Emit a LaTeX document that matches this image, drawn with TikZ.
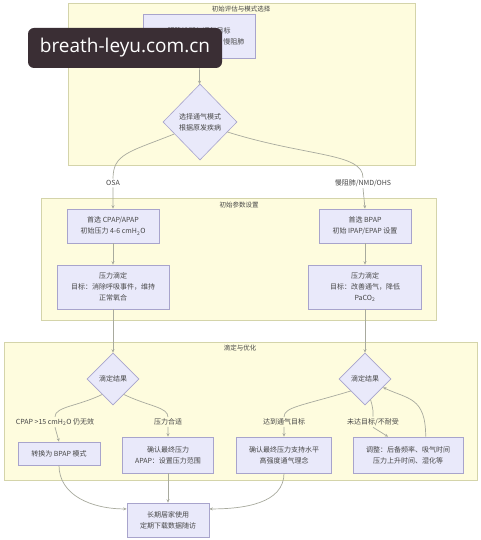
\documentclass[tikz,border=0pt]{standalone}
\usepackage{fontspec}
\setmainfont{Noto Sans CJK SC}
\newfontfamily\wmfont{Open Sans}
\usetikzlibrary{arrows.meta,shapes.geometric,calc}

\definecolor{grpfill}{RGB}{254,252,222}
\definecolor{grpline}{RGB}{212,212,170}
\definecolor{boxfill}{RGB}{233,233,250}
\definecolor{boxline}{RGB}{168,164,204}
\definecolor{edgec}{RGB}{168,170,158}
\definecolor{txt}{RGB}{70,70,70}
\definecolor{wmc}{RGB}{58,46,52}

\begin{document}
\begin{tikzpicture}[
  x=1pt, y=-1pt,
  grp/.style={draw=grpline, fill=grpfill, line width=0.6pt},
  grptitle/.style={font=\fontsize{6.5}{8}\selectfont, text=txt, inner sep=1pt},
  box/.style={draw=boxline, fill=boxfill, line width=0.6pt, align=center,
              font=\fontsize{7}{11}\selectfont, text=txt, inner sep=2pt},
  dec/.style={diamond, draw=boxline, fill=boxfill, line width=0.6pt, align=center,
              font=\fontsize{7}{11}\selectfont, text=txt, inner sep=0pt},
  lbl/.style={font=\fontsize{7}{9}\selectfont, text=txt, inner sep=1.5pt},
  flow/.style={draw=edgec, line width=0.7pt, -{Stealth[length=3.5pt,width=3pt]}},
]
  \useasboundingbox[fill=white] (0,0) rectangle (481,540);

  % groups
  \draw[grp] (68,3) rectangle (415,165);
  \node[grptitle] (g1) at (241,9) {初始评估与模式选择};
  \draw[grp] (41,198) rectangle (436,320);
  \node[grptitle] (g2) at (239,205) {初始参数设置};
  \draw[grp] (4,342) rectangle (477,480);
  \node[grptitle] (g3) at (240,348) {滴定与优化};

  % initial assessment
  \node[box, minimum width=112pt, minimum height=44pt] (goal) at (199,36)
      {明确诊断与通气目标\\如OSA、肥胖低通气、慢阻肺};
  \node[dec, minimum width=74pt, minimum height=76pt] (sel) at (200,122)
      {选择通气模式\\根据原发疾病};

  % initial settings
  \node[box, minimum width=92pt, minimum height=34pt] (cpap) at (113,226)
      {首选 CPAP/APAP\\初始压力 4-6 cmH\textsubscript{2}O};
  \node[box, minimum width=112pt, minimum height=44pt] (titA) at (113,287)
      {压力滴定\\目标：消除呼吸事件，维持\\正常氧合};
  \node[box, minimum width=92pt, minimum height=34pt] (bpap) at (365,226)
      {首选 BPAP\\初始 IPAP/EPAP 设置};
  \node[box, minimum width=113pt, minimum height=44pt] (titB) at (365,287)
      {压力滴定\\目标：改善通气，降低\\PaCO\textsubscript{2}};

  % titration
  \node[dec, minimum width=52pt, minimum height=52pt] (resA) at (113,379) {滴定结果};
  \node[dec, minimum width=52pt, minimum height=52pt] (resB) at (365,379) {滴定结果};
  \node[box, minimum width=82pt, minimum height=23pt] (swap) at (59,453.5) {转换为 BPAP 模式};
  \node[box, minimum width=91pt, minimum height=36pt] (fixA) at (168,455)
      {确认最终压力\\APAP：设置压力范围};
  \node[box, minimum width=95pt, minimum height=36pt] (fixB) at (284,455)
      {确认最终压力支持水平\\高强度通气理念};
  \node[box, minimum width=110pt, minimum height=36pt] (tune) at (408,455)
      {调整：后备频率、吸气时间\\压力上升时间、湿化等};
  \node[box, minimum width=82pt, minimum height=34pt] (home) at (168,520)
      {长期居家使用\\定期下载数据随访};

  % edge labels
  \node[lbl, fill=white] (osa) at (113,183) {OSA};
  \node[lbl, fill=white] (copd) at (363,183) {慢阻肺/NMD/OHS};
  \node[lbl, fill=grpfill] (fail) at (55,422) {CPAP >15 cmH\textsubscript{2}O 仍无效};
  \node[lbl, fill=grpfill] (okA) at (168,422) {压力合适};
  \node[lbl, fill=grpfill] (okB) at (284,422) {达到通气目标};
  \node[lbl, fill=grpfill] (nok) at (373,422) {未达目标/不耐受};

  % connectors
  \draw[flow] (goal) -- (sel);
  \draw[flow] (sel.205) .. controls +(-45,18) and +(0,-25) .. (osa.north) (osa.south) -- (cpap.north);
  \draw[flow] (sel.-20) .. controls +(80,25) and +(0,-25) .. (copd.north) (copd.south) -- (bpap.north);
  \draw[flow] (cpap) -- (titA);
  \draw[flow] (bpap) -- (titB);
  \draw[flow] (titA) -- (resA);
  \draw[flow] (titB) -- (resB);

  \draw[flow] (resA.235) .. controls +(-25,12) and +(0,-10) .. (fail.north) (fail.south) -- (swap.north);
  \draw[flow] (resA.-55) .. controls +(25,12) and +(0,-10) .. (okA.north) (okA.south) -- (fixA.north);
  \draw[flow] (resB.220) .. controls +(-50,15) and +(0,-10) .. (okB.north) (okB.south) -- (fixB.north);
  \draw[flow] (resB.-75) .. controls +(3,10) and +(0,-5) .. (nok.north)
      (nok.south) -- ($(tune.north west)!0.32!(tune.north east)$);
  \draw[flow] ($(tune.north west)!0.66!(tune.north east)$) .. controls +(0,-40) and +(25,12) .. (resB.-25);

  \draw[flow] (swap.south) .. controls +(0,30) and +(-35,0) .. (home.165);
  \draw[flow] (fixA) -- (home);
  \draw[flow] (fixB.south) .. controls +(0,30) and +(35,0) .. (home.15);

  % watermark
  \node[fill=wmc, rounded corners=6pt, minimum width=194pt, minimum height=40pt,
        text=white, font=\wmfont\fontsize{19}{19}\selectfont] (wm) at (125,48)
      {breath-leyu.com.cn};
\end{tikzpicture}
\end{document}
